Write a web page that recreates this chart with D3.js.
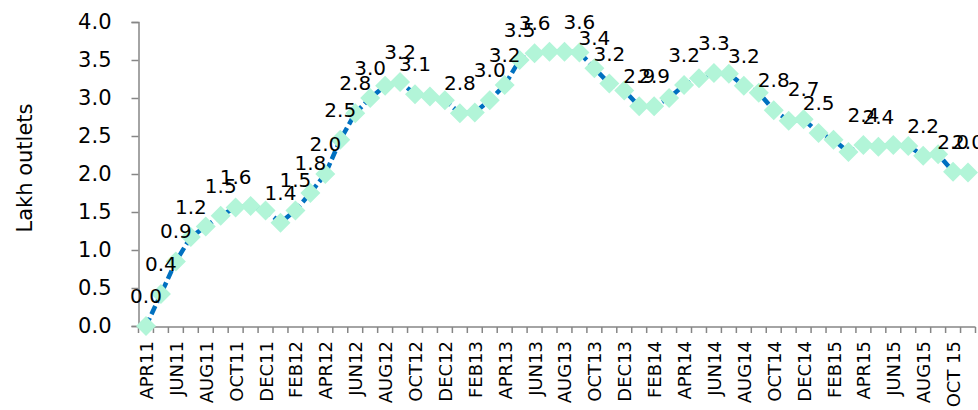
<!DOCTYPE html>
<html>
<head>
<meta charset="utf-8">
<script src="https://cdn.jsdelivr.net/npm/d3@7"></script>
<style>
  body { margin: 0; background: #fff; }
  text { font-family: "DejaVu Sans", sans-serif; fill: #000; }
</style>
</head>
<body>
<svg width="978" height="410"></svg>
<script>
// monthly outlets, APR11 .. NOV15
const months = [
  "APR11","MAY11","JUN11","JUL11","AUG11","SEP11","OCT11","NOV11","DEC11","JAN12","FEB12","MAR12",
  "APR12","MAY12","JUN12","JUL12","AUG12","SEP12","OCT12","NOV12","DEC12","JAN13","FEB13","MAR13",
  "APR13","MAY13","JUN13","JUL13","AUG13","SEP13","OCT13","NOV13","DEC13","JAN14","FEB14","MAR14",
  "APR14","MAY14","JUN14","JUL14","AUG14","SEP14","OCT14","NOV14","DEC14","JAN15","FEB15","MAR15",
  "APR15","MAY15","JUN15","JUL15","AUG15","SEP15","OCT 15","NOV15"
];
const outlets = [
  0.0, 0.42, 0.85, 1.17, 1.31, 1.45, 1.56, 1.58, 1.52, 1.36, 1.52, 1.75,
  2.0, 2.45, 2.8, 3.0, 3.16, 3.21, 3.05, 3.02, 2.97, 2.8, 2.81, 2.97,
  3.17, 3.5, 3.59, 3.61, 3.61, 3.6, 3.39, 3.19, 3.1, 2.89, 2.89, 3.0,
  3.17, 3.26, 3.33, 3.32, 3.16, 3.07, 2.84, 2.7, 2.72, 2.54, 2.45, 2.29,
  2.38, 2.36, 2.38, 2.37, 2.24, 2.26, 2.03, 2.02
];
// data labels shown only on some points (index, text as printed)
const labelIdx = [0, 1, 2, 3, 5, 6, 9, 10, 11, 12, 13, 14, 15, 17, 18, 21, 23, 24, 25, 26,
  29, 30, 31, 33, 34, 36, 38, 40, 42, 44, 45, 48, 49, 52, 54, 55];
const labelText = ["0.0","0.4","0.9","1.2","1.5","1.6","1.4","1.5","1.8","2.0","2.5","2.8",
  "3.0","3.2","3.1","2.8","3.0","3.2","3.5","3.6","3.6","3.4","3.2","2.9","2.9","3.2",
  "3.3","3.2","2.8","2.7","2.5","2.4","2.4","2.2","2.0","2.0"];
const yTicks = [0, 0.5, 1, 1.5, 2, 2.5, 3, 3.5, 4];
const tickLabels = months.filter((m, i) => i % 2 === 0);

const svg = d3.select("svg");
const plotLeft = 138.5, plotRight = 975.5, plotTop = 22, plotBottom = 326;

const x = d3.scaleBand().domain(months).range([plotLeft, plotRight]).padding(0);
const y = d3.scaleLinear().domain([0, 4]).range([plotBottom, plotTop]);
const cx = m => x(m) + x.bandwidth() / 2;

// y axis
const yAxis = svg.append("g")
    .attr("transform", `translate(${plotLeft},0)`)
    .call(d3.axisLeft(y).tickValues(yTicks).tickFormat(d3.format(".1f")).tickSize(7).tickPadding(20));
yAxis.select(".domain").attr("stroke", "#868686").attr("stroke-width", 1.5);
yAxis.selectAll(".tick line").attr("stroke", "#868686").attr("stroke-width", 1.5);
yAxis.selectAll(".tick text").style("font-size", "21px").style("font-family", "DejaVu Sans").attr("fill", "#000");

// x axis: line + boundary ticks + rotated labels
const xg = svg.append("g");
xg.append("line")
    .attr("x1", plotLeft).attr("x2", plotRight)
    .attr("y1", plotBottom + 1).attr("y2", plotBottom + 1)
    .attr("stroke", "#868686").attr("stroke-width", 1.5);
xg.selectAll(".xt")
    .data(months.concat([null]))
    .enter().append("line")
    .attr("x1", d => d === null ? plotRight : x(d))
    .attr("x2", d => d === null ? plotRight : x(d))
    .attr("y1", plotBottom + 1).attr("y2", plotBottom + 7)
    .attr("stroke", "#868686").attr("stroke-width", 1.5);
xg.selectAll(".xl")
    .data(tickLabels)
    .enter().append("text")
    .attr("transform", d => `translate(${cx(d) + 7},${plotBottom + 15}) rotate(-90)`)
    .attr("text-anchor", "end")
    .style("font-size", "18px")
    .text(d => d);

// y title
svg.append("text")
    .attr("transform", `translate(32,168) rotate(-90)`)
    .attr("text-anchor", "middle")
    .style("font-size", "21px")
    .text("Lakh outlets");

const data = months.map((m, i) => ({ m, v: outlets[i] }));

// dashed line
const line = d3.line().x(d => cx(d.m)).y(d => y(d.v));
svg.append("path")
    .datum(data)
    .attr("d", line)
    .attr("fill", "none")
    .attr("stroke", "#0070C0")
    .attr("stroke-width", 4.5)
    .attr("stroke-dasharray", "9,4");

// diamond markers
svg.selectAll(".mk")
    .data(data)
    .enter().append("path")
    .attr("d", d3.symbol(d3.symbolSquare, 200))
    .attr("transform", d => `translate(${cx(d.m)},${y(d.v)}) rotate(45)`)
    .attr("fill", "#B2F5D8");

// data labels
svg.selectAll(".dl")
    .data(labelIdx.map((i, k) => ({ d: data[i], t: labelText[k] })))
    .enter().append("text")
    .attr("x", e => cx(e.d.m))
    .attr("y", e => y(e.d.v) - 23)
    .attr("text-anchor", "middle")
    .style("font-size", "20px")
    .text(e => e.t);
</script>
</body>
</html>
